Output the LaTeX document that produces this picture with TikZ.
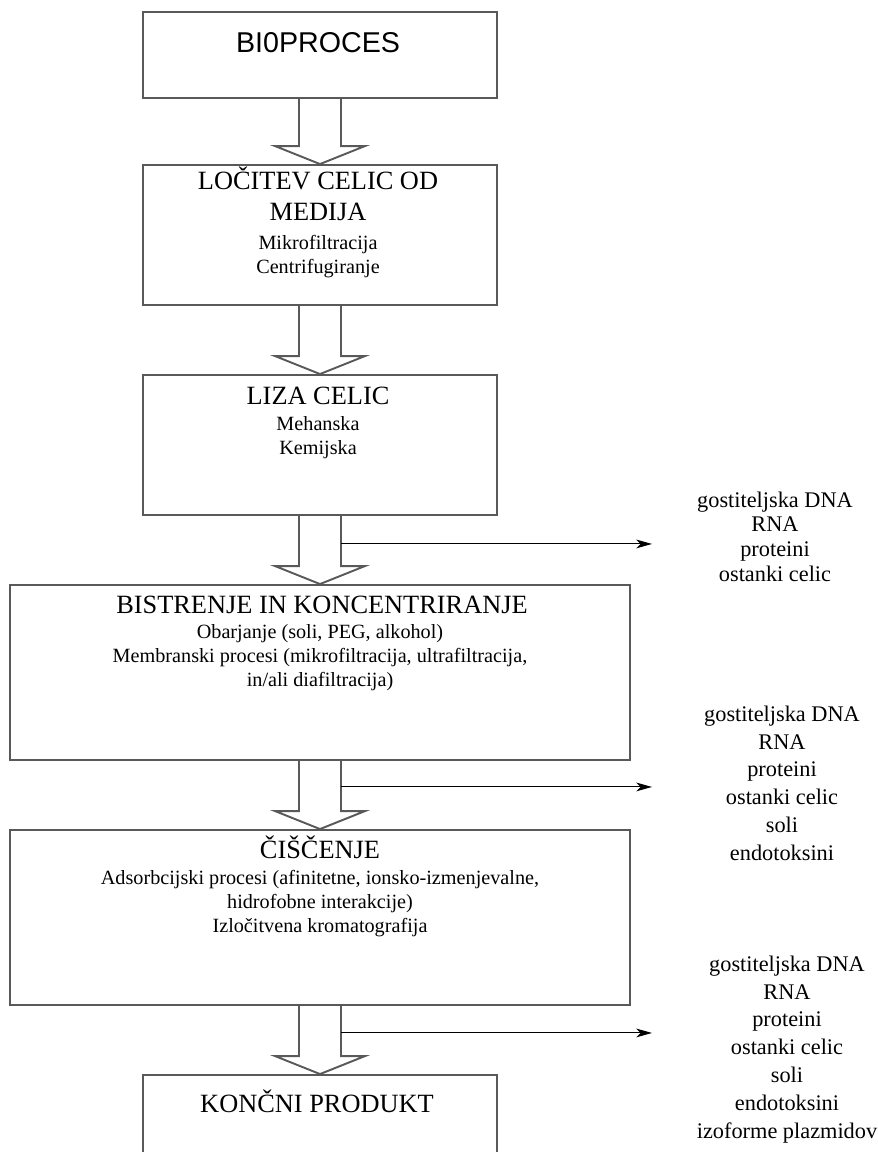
\documentclass[tikz,border=0pt]{standalone}
\usepackage{fontspec}
\setmainfont{Liberation Serif}
\newfontfamily\titlesans{Liberation Sans}
\usetikzlibrary{calc, arrows.meta}

\definecolor{linegray}{gray}{0.35}

\tikzset{
  stepbox/.style={draw=linegray, line width=1.1pt, rectangle, inner sep=0pt, minimum width=7.08cm, minimum height=2.8cm},
  widebox/.style={stepbox, minimum width=12.4cm, minimum height=3.5cm},
  headtxt/.style={anchor=north, inner sep=0pt, align=center, font=\fontsize{15}{17.6}\selectfont, execute at begin node=\rule{0pt}{14.2pt}},
  subtxt/.style={anchor=north, inner sep=0pt, align=center, font=\fontsize{11.5}{13.7}\selectfont, execute at begin node=\strut},
  wastetxt/.style={anchor=north, inner sep=0pt, align=center, font=\fontsize{12.7}{15.8}\selectfont, execute at begin node=\strut},
  hollow/.style={draw=linegray, line width=1.1pt},
  outarrow/.style={-{Stealth[length=9pt, width=5pt, inset=2.5pt]}, line width=0.6pt},
}

% hollow arrow between two boxes
\newcommand{\hollowdown}[2]{%
  \draw[hollow] ($(#1.south)+(-21,0)$) -- ($(#2.north)+(-21,-18)$) -- ($(#2.north)+(-45,-18)$)
    -- (#2.north) -- ($(#2.north)+(45,-18)$) -- ($(#2.north)+(21,-18)$) -- ($(#1.south)+(21,0)$);}

\begin{document}
\begin{tikzpicture}[x=0.02cm, y=-0.02cm]
  \clip (0,0) rectangle (878,1152);

  % boxes
  \node[stepbox, minimum height=1.72cm] (bio) at (320,55) {};
  \node[stepbox] (locitev) at (320,235) {};
  \node[stepbox] (liza) at (320,445) {};
  \node[widebox] (bistrenje) at (320,672.5) {};
  \node[widebox] (ciscenje) at (320,917.5) {};
  \node[stepbox, minimum height=2.5cm] (produkt) at (320,1137.5) {};

  % texts in the boxes
  \node[anchor=base, inner sep=0pt, font=\titlesans\fontsize{16.3}{19}\selectfont] (biotxt) at (318,53) {BI0PROCES};
  \node[headtxt] (locitevtxt) at (318,167) {LOČITEV CELIC OD\\MEDIJA};
  \node[subtxt] (locitevsub) at (318,235) {Mikrofiltracija\\Centrifugiranje};
  \node[headtxt] (lizatxt) at (318,379) {LIZA CELIC};
  \node[subtxt] (lizasub) at (318,416) {Mehanska\\Kemijska};
  \node[headtxt] (bistrenjetxt) at (322,588) {BISTRENJE IN KONCENTRIRANJE};
  \node[subtxt] (bistrenjesub) at (320,624) {Obarjanje (soli, PEG, alkohol)\\Membranski procesi (mikrofiltracija, ultrafiltracija,\\in/ali diafiltracija)};
  \node[headtxt] (ciscenjetxt) at (320,833) {ČIŠČENJE};
  \node[subtxt] (ciscenjesub) at (320,870.2) {Adsorbcijski procesi (afinitetne, ionsko-izmenjevalne,\\hidrofobne interakcije)\\Izločitvena kromatografija};
  \node[headtxt] (produkttxt) at (317,1087) {KONČNI PRODUKT};

  % removed impurities
  \node[wastetxt, font=\fontsize{12.7}{14}\selectfont] (waste1) at (775,491.5) {gostiteljska DNA\\RNA\\proteini\\ostanki celic};
  \node[wastetxt] (waste2) at (782,705.6) {gostiteljska DNA\\RNA\\proteini\\ostanki celic\\soli\\endotoksini};
  \node[wastetxt] (waste3) at (787,955.6) {gostiteljska DNA\\RNA\\proteini\\ostanki celic\\soli\\endotoksini\\izoforme plazmidov};

  % hollow arrows
  \hollowdown{bio}{locitev}
  \hollowdown{locitev}{liza}
  \hollowdown{liza}{bistrenje}
  \hollowdown{bistrenje}{ciscenje}
  \hollowdown{ciscenje}{produkt}

  % side arrows
  \coordinate (out1) at ($(liza.south)+(21,28)$);
  \coordinate (out2) at ($(bistrenje.south)+(21,26)$);
  \coordinate (out3) at ($(ciscenje.south)+(21,27)$);
  \coordinate (end1) at (out1 -| 652,0);
  \coordinate (end2) at (out2 -| 652,0);
  \coordinate (end3) at (out3 -| 652,0);
  \draw[outarrow] (out1) -- (end1);
  \draw[outarrow] (out2) -- (end2);
  \draw[outarrow] (out3) -- (end3);
\end{tikzpicture}
\end{document}
